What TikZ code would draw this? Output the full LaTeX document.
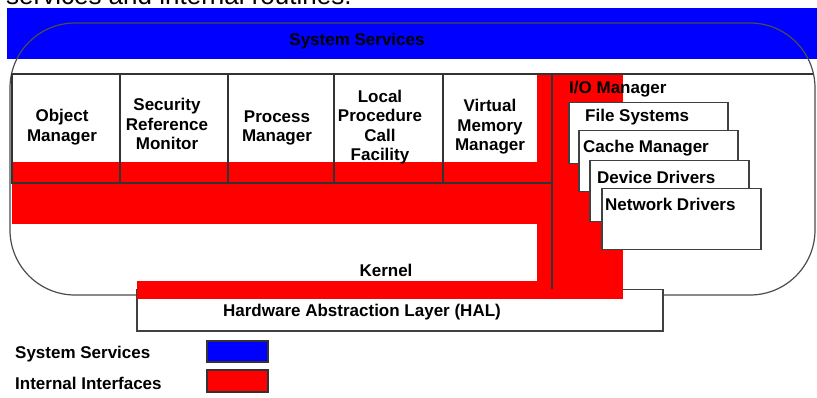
\documentclass[tikz,border=0pt]{standalone}
\usepackage{fontspec}
\setmainfont{Liberation Sans}
\usetikzlibrary{calc}
\tikzstyle{lbl} = [font=\bfseries\fontsize{17}{19.5}\selectfont, align=center, inner sep=0pt]
\tikzstyle{grid} = [draw=black!80, line width=1.8pt]
\tikzstyle{drvbox} = [draw=black!75, line width=1.5pt, fill=white, anchor=north west, minimum width=159pt, minimum height=61pt, inner sep=0pt]
\tikzstyle{swatch} = [draw=black!80, line width=1.5pt]

\begin{document}
\begin{tikzpicture}[x=1pt,y=-1pt]
        \useasboundingbox (0,0) rectangle (817,398);
        \clip (0,0) rectangle (817,398);
        \node [anchor=base west, inner sep=0pt, font=\fontsize{26}{30}\selectfont] (caption) at (6,4.5) {services and internal routines.};
        \fill [blue] (7,8) rectangle (817,59);
        \node [lbl] (services) at (357,41) {System Services};
        \draw [draw=black!70, line width=1.2pt, rounded corners=65pt] (10,23) rectangle (815,295);
        \node [draw=black!75, line width=1.5pt, fill=white, anchor=north west, minimum width=526pt, minimum height=41pt, inner sep=0pt] (hal) at (136,289) {};
        % internal interfaces
        \fill [red] (12,162) rectangle (552,224);
        \fill [red] (537,74) rectangle (623,299);
        \fill [red] (137,281) rectangle (623,299);
        \draw [grid] (12,74) rectangle (552,183);
        \foreach \x in {120,228,334,443}
            \draw [grid] (\x,74) -- (\x,183);
        \draw [grid] (552,74) -- (813,74);
        \draw [grid] (552,74) -- (552,289);
        \node [lbl] (objmgr) at (62,127) {Object\\Manager};
        \node [lbl] (secmon) at (167,124) {Security\\Reference\\Monitor};
        \node [lbl] (procmgr) at (277,128) {Process\\Manager};
        \node [lbl] (lpc) at (380,127) {Local\\Procedure\\Call\\Facility};
        \node [lbl] (vmm) at (490,127) {Virtual\\Memory\\Manager};
        \node [lbl, anchor=base west] (iomgr) at (569,94) {I/O Manager};
        \node [drvbox] (fs) at (568,102) {};
        \node [lbl, anchor=base west] at ($(fs.north west)+(17,20)$) {File Systems};
        \node [drvbox] (cache) at (578,130) {};
        \node [lbl, anchor=base west] at ($(cache.north west)+(5,23)$) {Cache Manager};
        \node [drvbox] (devdrv) at (589,160) {};
        \node [lbl, anchor=base west] at ($(devdrv.north west)+(8,24)$) {Device Drivers};
        \node [drvbox] (netdrv) at (601,188) {};
        \node [lbl, anchor=base west] at ($(netdrv.north west)+(4,23)$) {Network Drivers};
        \node [lbl] (kernel) at (386,270) {Kernel};
        \node [lbl] (haltxt) at (362,312) {Hardware Abstraction Layer (HAL)};
        % legend
        \node [lbl, anchor=west] (legserv) at (15,354) {System Services};
        \draw [swatch, fill=blue] (207,341) rectangle (268,362);
        \node [lbl, anchor=west] (legiface) at (15,383) {Internal Interfaces};
        \draw [swatch, fill=red] (207,370) rectangle (268,392);
    \end{tikzpicture}
\end{document}
